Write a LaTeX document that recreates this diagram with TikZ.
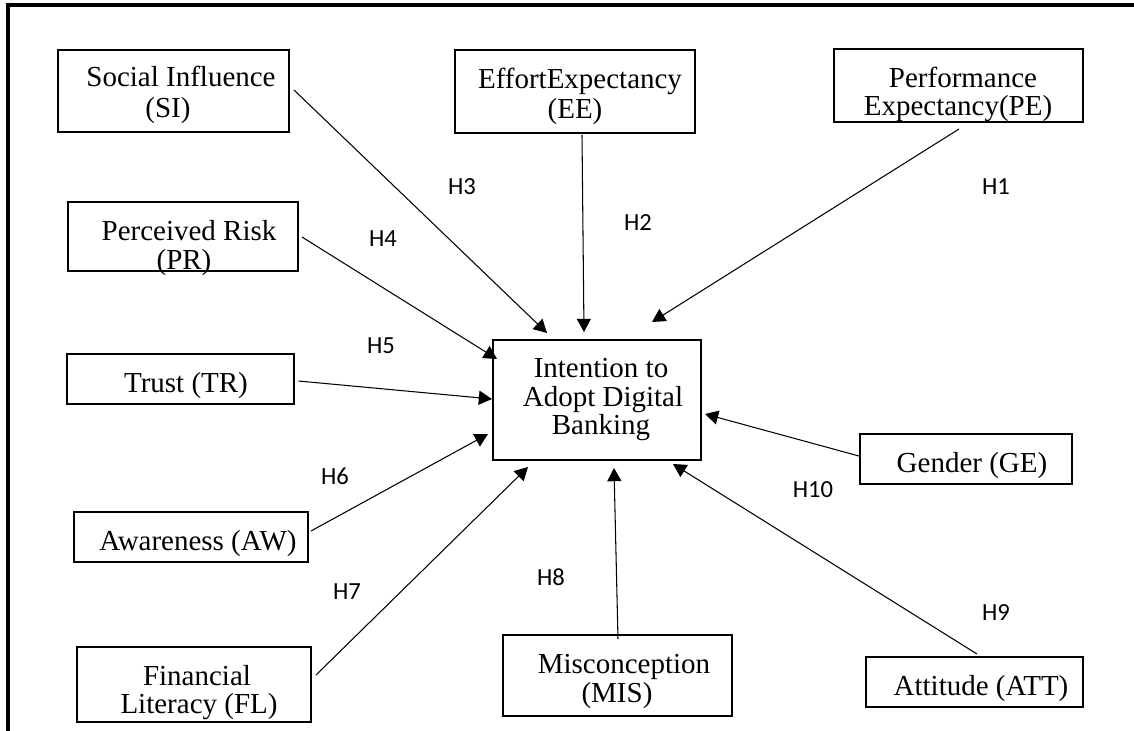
\documentclass[tikz,border=0pt]{standalone}
\usepackage{fontspec}
\setmainfont{Liberation Serif}
\newfontfamily\hfont{Carlito}
\usetikzlibrary{arrows.meta,calc}
\begin{document}
\begin{tikzpicture}[x=0.02cm,y=-0.02cm,
  box/.style={draw,line width=1.6pt,inner sep=0pt,outer sep=0pt,rectangle},
  txt/.style={anchor=base,inner sep=0pt,font=\fontsize{16.5}{17}\selectfont},
  hyp/.style={inner sep=0pt,font=\hfont\fontsize{14}{15}\selectfont},
  arr/.style={line width=0.6pt,-{Triangle[length=7.5pt,width=8pt]}}]
\useasboundingbox (0,0) rectangle (1134,731);
% frame
\draw[line width=1.8pt] (8,731) -- (8,5) -- (1134,5);
% boxes
\node[box,minimum width=4.62cm,minimum height=1.64cm] (si) at (173.5,91) {};
\node[box,minimum width=4.80cm,minimum height=1.66cm] (ee) at (575,91.5) {};
\node[box,minimum width=4.98cm,minimum height=1.46cm] (pe) at (958.5,85.5) {};
\node[box,minimum width=4.60cm,minimum height=1.38cm] (pr) at (183,236.5) {};
\node[box,minimum width=4.54cm,minimum height=1.00cm] (tr) at (180.5,379) {};
\node[box,minimum width=4.16cm,minimum height=2.40cm] (itn) at (597,400) {};
\node[box,minimum width=4.24cm,minimum height=1.00cm] (ge) at (966,459) {};
\node[box,minimum width=4.68cm,minimum height=1.00cm] (aw) at (191,537) {};
\node[box,minimum width=4.68cm,minimum height=1.50cm] (fl) at (194,684.5) {};
\node[box,minimum width=4.58cm,minimum height=1.62cm] (mis) at (617.5,675.5) {};
\node[box,minimum width=4.34cm,minimum height=1.00cm] (att) at (974.5,682) {};
% texts
\node[txt] (si1) at (181,86) {Social Influence};
\node[txt] (si2) at (168,117) {(SI)};
\node[txt] (ee1) at (580,88) {EffortExpectancy};
\node[txt] (ee2) at (575,118) {(EE)};
\node[txt] (pe1) at (963,87) {Performance};
\node[txt] (pe2) at (958,115) {Expectancy(PE)};
\node[txt] (pr1) at (189,240) {Perceived Risk};
\node[txt] (pr2) at (184,269) {(PR)};
\node[txt] (tr1) at (186,392) {Trust (TR)};
\node[txt] (itn1) at (601,377) {Intention to};
\node[txt] (itn2) at (603,406) {Adopt Digital};
\node[txt] (itn3) at (601,434) {Banking};
\node[txt] (ge1) at (972,472) {Gender (GE)};
\node[txt] (aw1) at (198,550) {Awareness (AW)};
\node[txt] (fl1) at (197,685) {Financial};
\node[txt] (fl2) at (199,713) {Literacy (FL)};
\node[txt] (mis1) at (624,673) {Misconception};
\node[txt] (mis2) at (617,702) {(MIS)};
\node[txt] (att1) at (981,695) {Attitude (ATT)};
% connectors
\draw[arr] ($(si.east)+(5,-1)$) -- ($(itn.center)+(-50,-67)$);
\draw[arr] ($(ee.south)+(7,2)$) -- ($(itn.center)+(-13,-68)$);
\draw[arr] ($(pe.south)+(0.5,7)$) -- ($(itn.center)+(55,-78)$);
\draw[arr] ($(pr.east)+(4,0.5)$) -- ($(itn.center)+(-100,-41)$);
\draw[arr] ($(tr.east)+(4.5,2)$) -- ($(itn.center)+(-105,-1)$);
\draw[arr] ($(aw.east)+(3,-6)$) -- ($(itn.center)+(-109,34)$);
\draw[arr] ($(fl.east)+(5,-9.5)$) -- ($(itn.center)+(-69,67)$);
\draw[arr] ($(mis.north)+(0.5,4)$) -- ($(itn.center)+(17,68)$);
\draw[arr] ($(att.north)+(2.5,-3)$) -- ($(itn.center)+(76,64)$);
\draw[arr] ($(ge.west)+(-1,-3)$) -- ($(itn.center)+(108,14)$);
% hypothesis labels
\node[hyp] (h1) at (996,187) {H1};
\node[hyp] (h2) at (638,223) {H2};
\node[hyp] (h3) at (462,187) {H3};
\node[hyp] (h4) at (383,239) {H4};
\node[hyp] (h5) at (381,346) {H5};
\node[hyp] (h6) at (335,476) {H6};
\node[hyp] (h7) at (347,592) {H7};
\node[hyp] (h8) at (551,577) {H8};
\node[hyp] (h9) at (996,613) {H9};
\node[hyp] (h10) at (813,490) {H10};
\end{tikzpicture}
\end{document}
